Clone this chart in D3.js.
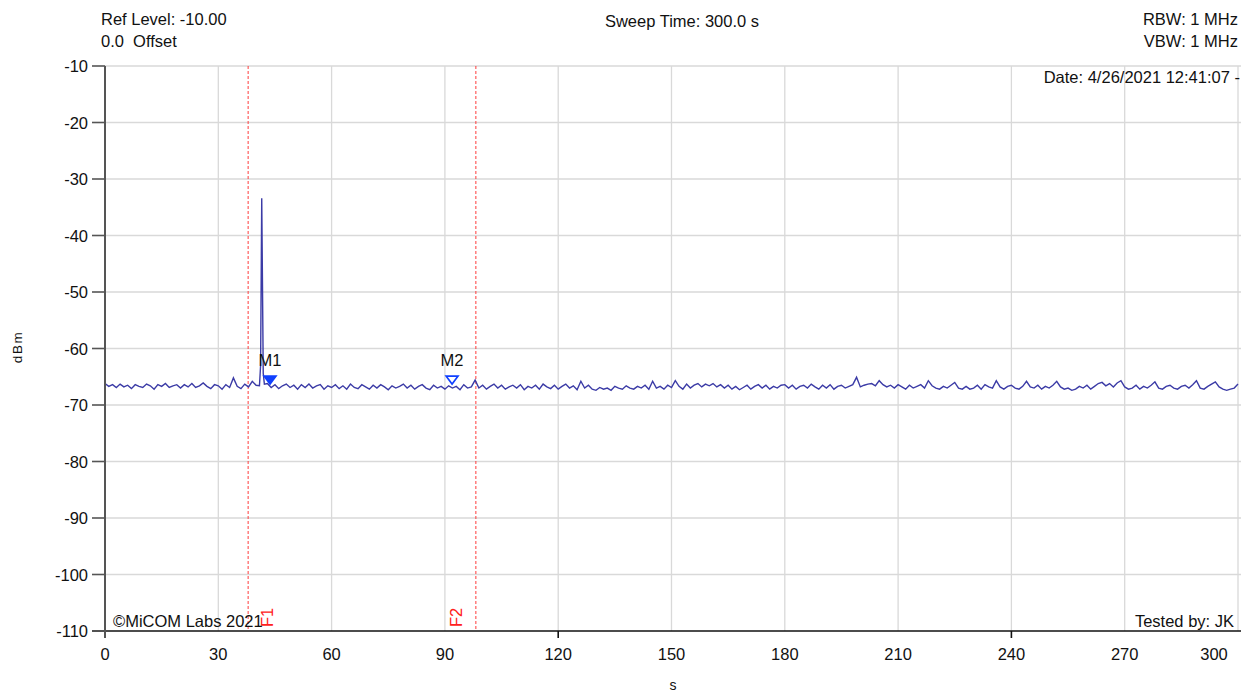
<!DOCTYPE html>
<html lang="en">
<head>
    <meta charset="UTF-8">
    <script src="https://d3js.org/d3.v7.min.js"></script>
    <title>Sweep</title>
    <style>
        body {
            margin: 0;
            background: #fff;
            font-family: "Liberation Sans", Arial, sans-serif;
        }
        text {
            font-size: 16.5px;
            fill: #111;
        }
    </style>
</head>
<body>
<div id="chart"></div>
<script>

    // trace level in dBm, one reading per second (0..300 s)
    var traceDbm = [
        -66.2,-66.7,-66.4,-66.9,-66.3,-66.8,-66.5,-67.1,-66.4,-66.7,
        -66.9,-66.3,-66.6,-67.2,-66.4,-66.7,-66.2,-66.9,-66.6,-66.4,
        -67.0,-66.4,-66.8,-66.2,-66.9,-66.6,-66.1,-66.7,-67.1,-66.4,
        -66.6,-67.2,-66.4,-66.9,-65.2,-66.7,-67.1,-66.3,-66.8,-65.8,
        -66.5,-66.3,-66.7,-66.2,-66.9,-66.4,-67.1,-66.6,-66.3,-66.9,
        -66.5,-67.2,-66.4,-66.9,-66.3,-67.0,-66.6,-66.4,-67.2,-66.6,
        -66.9,-66.4,-67.1,-66.6,-67.2,-66.3,-66.9,-67.1,-66.4,-66.8,
        -67.2,-66.5,-67.0,-66.4,-66.8,-67.3,-66.6,-67.0,-66.7,-66.3,
        -67.0,-66.5,-67.2,-66.7,-66.4,-67.0,-67.3,-66.5,-67.0,-66.7,
        -67.2,-66.6,-67.0,-66.7,-67.3,-66.4,-67.0,-66.8,-65.6,-67.0,
        -66.5,-67.2,-66.7,-66.3,-67.0,-66.5,-67.2,-66.8,-66.5,-67.0,
        -66.4,-67.3,-66.7,-67.0,-66.5,-67.2,-66.3,-66.8,-67.1,-66.5,
        -67.2,-66.7,-66.3,-67.0,-66.6,-67.3,-65.8,-67.0,-66.5,-67.2,
        -67.4,-66.9,-67.2,-67.0,-67.4,-66.7,-67.0,-67.2,-66.6,-67.0,
        -67.2,-66.7,-67.0,-66.5,-67.2,-65.8,-67.0,-66.7,-67.2,-66.5,
        -66.9,-65.7,-66.7,-67.2,-66.3,-67.0,-66.5,-66.2,-66.8,-66.3,
        -66.6,-66.2,-66.8,-66.4,-67.0,-66.5,-67.2,-66.7,-67.3,-66.9,
        -66.5,-67.2,-66.7,-66.4,-67.0,-66.5,-67.2,-66.7,-67.0,-66.5,
        -66.4,-67.0,-66.5,-67.2,-66.7,-66.5,-67.0,-66.3,-66.8,-67.2,
        -66.5,-67.0,-66.4,-67.2,-66.7,-66.5,-67.0,-66.7,-66.4,-65.1,
        -66.8,-66.5,-66.3,-66.2,-66.6,-65.7,-66.4,-66.8,-66.5,-67.0,
        -66.4,-66.8,-67.2,-66.5,-67.0,-66.7,-66.4,-67.0,-65.7,-66.6,
        -67.0,-67.2,-66.7,-67.0,-66.5,-66.0,-67.0,-67.2,-66.7,-67.2,
        -67.0,-66.5,-67.2,-66.4,-66.8,-67.0,-65.7,-66.8,-67.2,-66.7,
        -66.5,-67.0,-67.2,-66.7,-65.8,-66.8,-67.0,-66.5,-67.2,-66.7,
        -67.0,-66.5,-65.8,-66.8,-67.2,-67.0,-67.4,-67.2,-66.7,-67.0,
        -66.5,-67.2,-66.7,-66.2,-66.0,-66.6,-66.2,-66.8,-66.1,-65.7,
        -66.8,-67.2,-67.0,-66.5,-67.2,-66.7,-67.0,-66.5,-65.9,-67.0,
        -67.2,-66.7,-66.5,-67.0,-67.2,-66.7,-66.5,-67.0,-66.4,-65.7,
        -67.0,-67.2,-66.7,-66.3,-65.9,-66.8,-67.2,-67.4,-67.2,-67.0,
        -66.3
    ];

    // the burst near 41.5 s
    var spikeTime = [40.9, 41.2, 41.5, 41.9, 42.2];
    var spikeDbm  = [-66.6, -63.0, -33.4, -64.4, -66.3];

    // markers
    var markerNames = ["M1", "M2"];
    var markerTime  = [43.7, 91.9];
    var markerDbm   = [-66.3, -66.3];

    // frequency lines
    var fLineNames = ["F1", "F2"];
    var fLineTime  = [37.9, 98.2];

    var xTicks = [0, 30, 60, 90, 120, 150, 180, 210, 240, 270, 300];
    var yTicks = [-10, -20, -30, -40, -50, -60, -70, -80, -90, -100, -110];

    var width = 1241, height = 693;
    var plotL = 105, plotR = 1238, plotT = 66, plotB = 631;

    var svg = d3.select("#chart")
        .append("svg")
        .attr("width", width)
        .attr("height", height);

    var x = d3.scaleLinear().domain([0, 300]).range([plotL, plotR]);
    var y = d3.scaleLinear().domain([-110, -10]).range([plotB, plotT]);

    // grid
    svg.append("g")
        .selectAll("line")
        .data(xTicks.filter(function(d) { return d > 0; }))
        .enter().append("line")
        .attr("x1", function(d) { return x(d); })
        .attr("x2", function(d) { return x(d); })
        .attr("y1", plotT)
        .attr("y2", plotB)
        .attr("stroke", "#d9d9d9")
        .attr("stroke-width", 1.3);

    svg.append("g")
        .selectAll("line")
        .data(yTicks.filter(function(d) { return d > -110; }))
        .enter().append("line")
        .attr("x1", plotL)
        .attr("x2", width)
        .attr("y1", function(d) { return y(d); })
        .attr("y2", function(d) { return y(d); })
        .attr("stroke", "#d9d9d9")
        .attr("stroke-width", 1.3);

    // F1 / F2 dashed lines
    svg.append("g")
        .selectAll("line")
        .data(fLineTime)
        .enter().append("line")
        .attr("x1", function(d) { return x(d); })
        .attr("x2", function(d) { return x(d); })
        .attr("y1", plotT)
        .attr("y2", plotB)
        .attr("stroke", "#ff3b3b")
        .attr("stroke-width", 1)
        .attr("stroke-dasharray", "3,2");

    var fOffset = [25, -14];
    svg.append("g")
        .selectAll("text")
        .data(fLineNames)
        .enter().append("text")
        .attr("transform", function(d, i) {
            return "translate(" + (x(fLineTime[i]) + fOffset[i]) + "," + 627 + ") rotate(-90)";
        })
        .style("fill", "#ff2020")
        .text(function(d) { return d; });

    // trace
    var trace = traceDbm.map(function(v, i) { return {t: i, v: v}; })
        .filter(function(d) { return d.t < spikeTime[0] || d.t > spikeTime[spikeTime.length - 1]; })
        .concat(spikeTime.map(function(t, i) { return {t: t, v: spikeDbm[i]}; }))
        .sort(function(a, b) { return a.t - b.t; });

    svg.append("path")
        .datum(trace)
        .attr("fill", "none")
        .attr("stroke", "#3b3ba6")
        .attr("stroke-width", 1.4)
        .attr("d", d3.line()
            .x(function(d) { return x(d.t); })
            .y(function(d) { return y(d.v); })
        );

    // markers
    var mk = svg.append("g")
        .selectAll("g")
        .data(markerNames)
        .enter().append("g")
        .attr("transform", function(d, i) {
            return "translate(" + x(markerTime[i]) + "," + y(markerDbm[i]) + ")";
        });
    mk.append("path")
        .attr("d", "M-6,-8 L6,-8 L0,0 Z")
        .attr("fill", function(d, i) { return i === 0 ? "#1040ff" : "#fff"; })
        .attr("stroke", "#1040ff")
        .attr("stroke-width", 1.6);
    mk.append("text")
        .attr("x", 0)
        .attr("y", -18)
        .attr("text-anchor", "middle")
        .text(function(d) { return d; });

    // axes
    svg.append("line")
        .attr("x1", 92).attr("x2", width)
        .attr("y1", plotB).attr("y2", plotB)
        .attr("stroke", "#111").attr("stroke-width", 1.6);
    svg.append("line")
        .attr("x1", plotL).attr("x2", plotL)
        .attr("y1", plotT).attr("y2", plotB + 7)
        .attr("stroke", "#555").attr("stroke-width", 2);

    svg.append("g")
        .selectAll("line")
        .data(yTicks)
        .enter().append("line")
        .attr("x1", 92).attr("x2", plotL)
        .attr("y1", function(d) { return y(d); })
        .attr("y2", function(d) { return y(d); })
        .attr("stroke", "#555").attr("stroke-width", 1.6);

    svg.append("g")
        .selectAll("line")
        .data([120, 240])
        .enter().append("line")
        .attr("x1", function(d) { return x(d); })
        .attr("x2", function(d) { return x(d); })
        .attr("y1", plotB).attr("y2", plotB + 7)
        .attr("stroke", "#111").attr("stroke-width", 1.6);

    svg.append("g")
        .selectAll("text")
        .data(yTicks)
        .enter().append("text")
        .attr("x", 88)
        .attr("y", function(d) { return y(d) + 6; })
        .attr("text-anchor", "end")
        .text(function(d) { return d; });

    svg.append("g")
        .selectAll("text")
        .data(xTicks)
        .enter().append("text")
        .attr("x", function(d) { return d === 300 ? 1214 : x(d); })
        .attr("y", 660)
        .attr("text-anchor", "middle")
        .text(function(d) { return d; });

    // axis titles
    svg.append("text")
        .attr("transform", "translate(22,347) rotate(-90)")
        .attr("text-anchor", "middle")
        .style("font-size", "13.5px")
        .style("letter-spacing", "1.5px")
        .text("dBm");
    svg.append("text")
        .attr("x", 673).attr("y", 690)
        .attr("text-anchor", "middle")
        .style("font-size", "14px")
        .text("s");

    // header and footer notes
    svg.append("text").attr("x", 101).attr("y", 25).text("Ref Level: -10.00");
    svg.append("text").attr("x", 101).attr("y", 47).attr("xml:space", "preserve").text("0.0  Offset");
    svg.append("text").attr("x", 682).attr("y", 27).attr("text-anchor", "middle").text("Sweep Time: 300.0 s");
    svg.append("text").attr("x", 1238).attr("y", 25).attr("text-anchor", "end").text("RBW: 1 MHz");
    svg.append("text").attr("x", 1238).attr("y", 47).attr("text-anchor", "end").text("VBW: 1 MHz");
    svg.append("text").attr("x", 1240).attr("y", 83).attr("text-anchor", "end").text("Date: 4/26/2021 12:41:07 -");
    svg.append("text").attr("x", 113).attr("y", 627).text("\u00a9MiCOM Labs 2021");
    svg.append("text").attr("x", 1234).attr("y", 627).attr("text-anchor", "end").text("Tested by: JK");

</script>
</body>
</html>
